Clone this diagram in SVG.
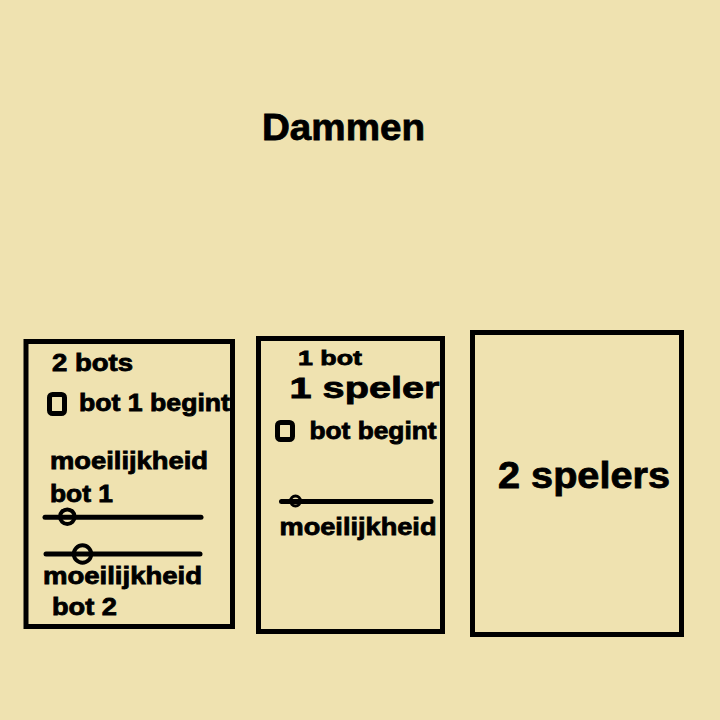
<svg xmlns="http://www.w3.org/2000/svg" width="720" height="720" viewBox="0 0 720 720">
<style>
.bg{fill:#EFE2B0}
.box{fill:none;stroke:#000;stroke-width:5}
.chk{fill:none;stroke:#000;stroke-width:5}
.track{stroke:#000;stroke-width:5;stroke-linecap:round}
.knob{fill:none;stroke:#000;stroke-width:4}
text{font-family:"Liberation Sans",Arial,sans-serif;font-weight:bold;fill:#000;stroke:#000;stroke-width:0.8}
.s{font-size:23px}
</style>
<rect class="bg" x="0" y="0" width="720" height="720"/>
<g id="title">
<text x="262" y="140" font-size="37" textLength="163" lengthAdjust="spacingAndGlyphs">Dammen</text>
</g>
<g id="panel-2-bots">
<rect class="box" x="26" y="341.5" width="206.5" height="285"/>
<text class="s" x="52" y="371" font-size="24" textLength="81" lengthAdjust="spacingAndGlyphs">2 bots</text>
<rect class="chk" x="49.5" y="394.5" width="15" height="19" rx="3"/>
<text class="s" x="79" y="411" textLength="151" lengthAdjust="spacingAndGlyphs">bot 1 begint</text>
<text class="s" x="50" y="468.5" font-size="23.5" textLength="158" lengthAdjust="spacingAndGlyphs">moeilijkheid</text>
<text class="s" x="50" y="502" textLength="63" lengthAdjust="spacingAndGlyphs">bot 1</text>
<line class="track" x1="45" y1="517.3" x2="201" y2="517.3"/>
<circle class="knob" cx="67.3" cy="516.7" r="7.3"/>
<line class="track" x1="46" y1="554" x2="200" y2="554"/>
<circle class="knob" cx="82.5" cy="554" r="8.7"/>
<text class="s" x="43" y="583.5" font-size="23.5" textLength="159" lengthAdjust="spacingAndGlyphs">moeilijkheid</text>
<text class="s" x="52" y="615" textLength="65" lengthAdjust="spacingAndGlyphs">bot 2</text>
</g>
<g id="panel-1-speler">
<rect class="box" x="258.5" y="338.5" width="184" height="293"/>
<text x="298" y="364.5" font-size="21" textLength="64" lengthAdjust="spacingAndGlyphs">1 bot</text>
<text x="289.5" y="397.5" font-size="30" textLength="150" lengthAdjust="spacingAndGlyphs">1 speler</text>
<rect class="chk" x="277.5" y="422.5" width="15" height="17" rx="3"/>
<text class="s" x="309.5" y="438.5" textLength="127" lengthAdjust="spacingAndGlyphs">bot begint</text>
<line class="track" x1="281.5" y1="501.5" x2="431" y2="501.5"/>
<circle class="knob" cx="295.5" cy="501" r="5" style="stroke-width:3"/>
<text x="279.5" y="534.5" font-size="24" textLength="157" lengthAdjust="spacingAndGlyphs">moeilijkheid</text>
</g>
<g id="panel-2-spelers">
<rect class="box" x="472.5" y="332.5" width="209" height="302"/>
<text x="498" y="487.5" font-size="36" textLength="172" lengthAdjust="spacingAndGlyphs">2 spelers</text>
</g>
<g id="connectors"></g>
</svg>
